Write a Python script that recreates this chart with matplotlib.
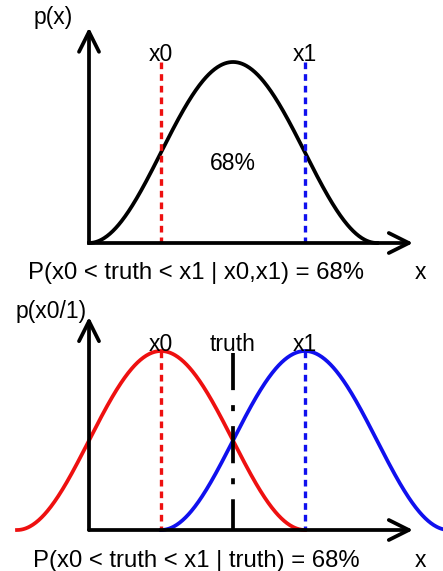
import numpy as np
import matplotlib
matplotlib.use('Agg')
from matplotlib import pyplot as plt

plt.rcParams['font.family'] = ['Liberation Sans', 'DejaVu Sans']

# positions along x (x0, truth, x1) and curve half width
x0 = -1.0
truth = 0.0
x1 = 1.0
half_width = 2.0
axis_start = -2.0
axis_end = 2.5
y_top = 1.19

top_labels = ['p(x)', 'x0', 'x1', '68%', 'P(x0 < truth < x1 | x0,x1) = 68%', 'x']
bottom_labels = ['p(x0/1)', 'x0', 'truth', 'x1', 'P(x0 < truth < x1 | truth) = 68%', 'x']

red = '#ee1010'
blue = '#1010ee'
lw = 2.7
lw_dash = 2.4
dashed = (0, (2.0, 1.5))
dashdot = (0, (9.9, 4.0, 1.6, 4.0))


def bump(x, centre):
    t = (x - centre) / half_width
    return np.where(np.abs(t) <= 1, 0.5 * (1 + np.cos(np.pi * t)), 0.0)


def draw_axes(ax):
    style = '->,head_length=0.72,head_width=0.36'
    ax.annotate('', xy=(axis_end, 0), xytext=(axis_start, 0),
                arrowprops=dict(arrowstyle=style, lw=lw, color='black',
                                mutation_scale=20, shrinkA=0, shrinkB=0))
    ax.annotate('', xy=(axis_start, y_top), xytext=(axis_start, 0),
                arrowprops=dict(arrowstyle=style, lw=lw, color='black',
                                mutation_scale=20, shrinkA=0, shrinkB=0))


W, H = 443, 571
fig = plt.figure(figsize=(W / 100, H / 100), dpi=100)
scale_x = 72.0
cx = 233.0
fs = 16.5
fs_big = 17.2

# top panel
ax = fig.add_axes([0, 281 / H, 1, 290 / H])
ax.set_xlim(-cx / scale_x, (W - cx) / scale_x)
ax.set_ylim((243 - 290) / 181, 243 / 181)
ax.axis('off')
xs = np.linspace(-half_width, half_width, 400)
ax.plot(xs, bump(xs, 0), color='black', lw=lw)
ax.plot([x0, x0], [1, 0], color=red, lw=lw_dash, ls=dashed)
ax.plot([x1, x1], [1, 0], color=blue, lw=lw_dash, ls=dashed)
draw_axes(ax)
ax.text(-2.5, 1.245, top_labels[0], fontsize=fs, ha='center', va='center')
ax.text(x0, 1.005, top_labels[1], fontsize=fs, ha='center', va='baseline')
ax.text(x1, 1.005, top_labels[2], fontsize=fs, ha='center', va='baseline')
ax.text(0, 0.44, top_labels[3], fontsize=fs, ha='center', va='center')
ax.text(-0.51, -0.165, top_labels[4], fontsize=fs_big, ha='center', va='center')
ax.text(2.6, -0.165, top_labels[5], fontsize=fs, ha='center', va='center')

# bottom panel
ax = fig.add_axes([0, 0, 1, 281 / H])
ax.set_xlim(-cx / scale_x, (W - cx) / scale_x)
ax.set_ylim((530 - 571) / 179, (530 - 290) / 179)
ax.axis('off')
xr = np.linspace(x0 - half_width, x0 + half_width, 400)
xb = np.linspace(x1 - half_width, x1 + half_width, 400)
ax.plot(xr, bump(xr, x0), color=red, lw=lw)
ax.plot(xb, bump(xb, x1), color=blue, lw=lw)
ax.plot([x0, x0], [1, 0], color=red, lw=lw_dash, ls=dashed)
ax.plot([x1, x1], [1, 0], color=blue, lw=lw_dash, ls=dashed)
ax.plot([truth, truth], [0.99, 0], color='black', lw=lw, ls=dashdot)
draw_axes(ax)
ax.text(-2.53, 1.22, bottom_labels[0], fontsize=fs, ha='center', va='center')
ax.text(x0, 1.0, bottom_labels[1], fontsize=fs, ha='center', va='baseline')
ax.text(truth, 1.0, bottom_labels[2], fontsize=fs, ha='center', va='baseline')
ax.text(x1, 1.0, bottom_labels[3], fontsize=fs, ha='center', va='baseline')
ax.text(-0.51, -0.172, bottom_labels[4], fontsize=fs_big, ha='center', va='center')
ax.text(2.6, -0.172, bottom_labels[5], fontsize=fs, ha='center', va='center')

fig.savefig('out.png', dpi=100)
